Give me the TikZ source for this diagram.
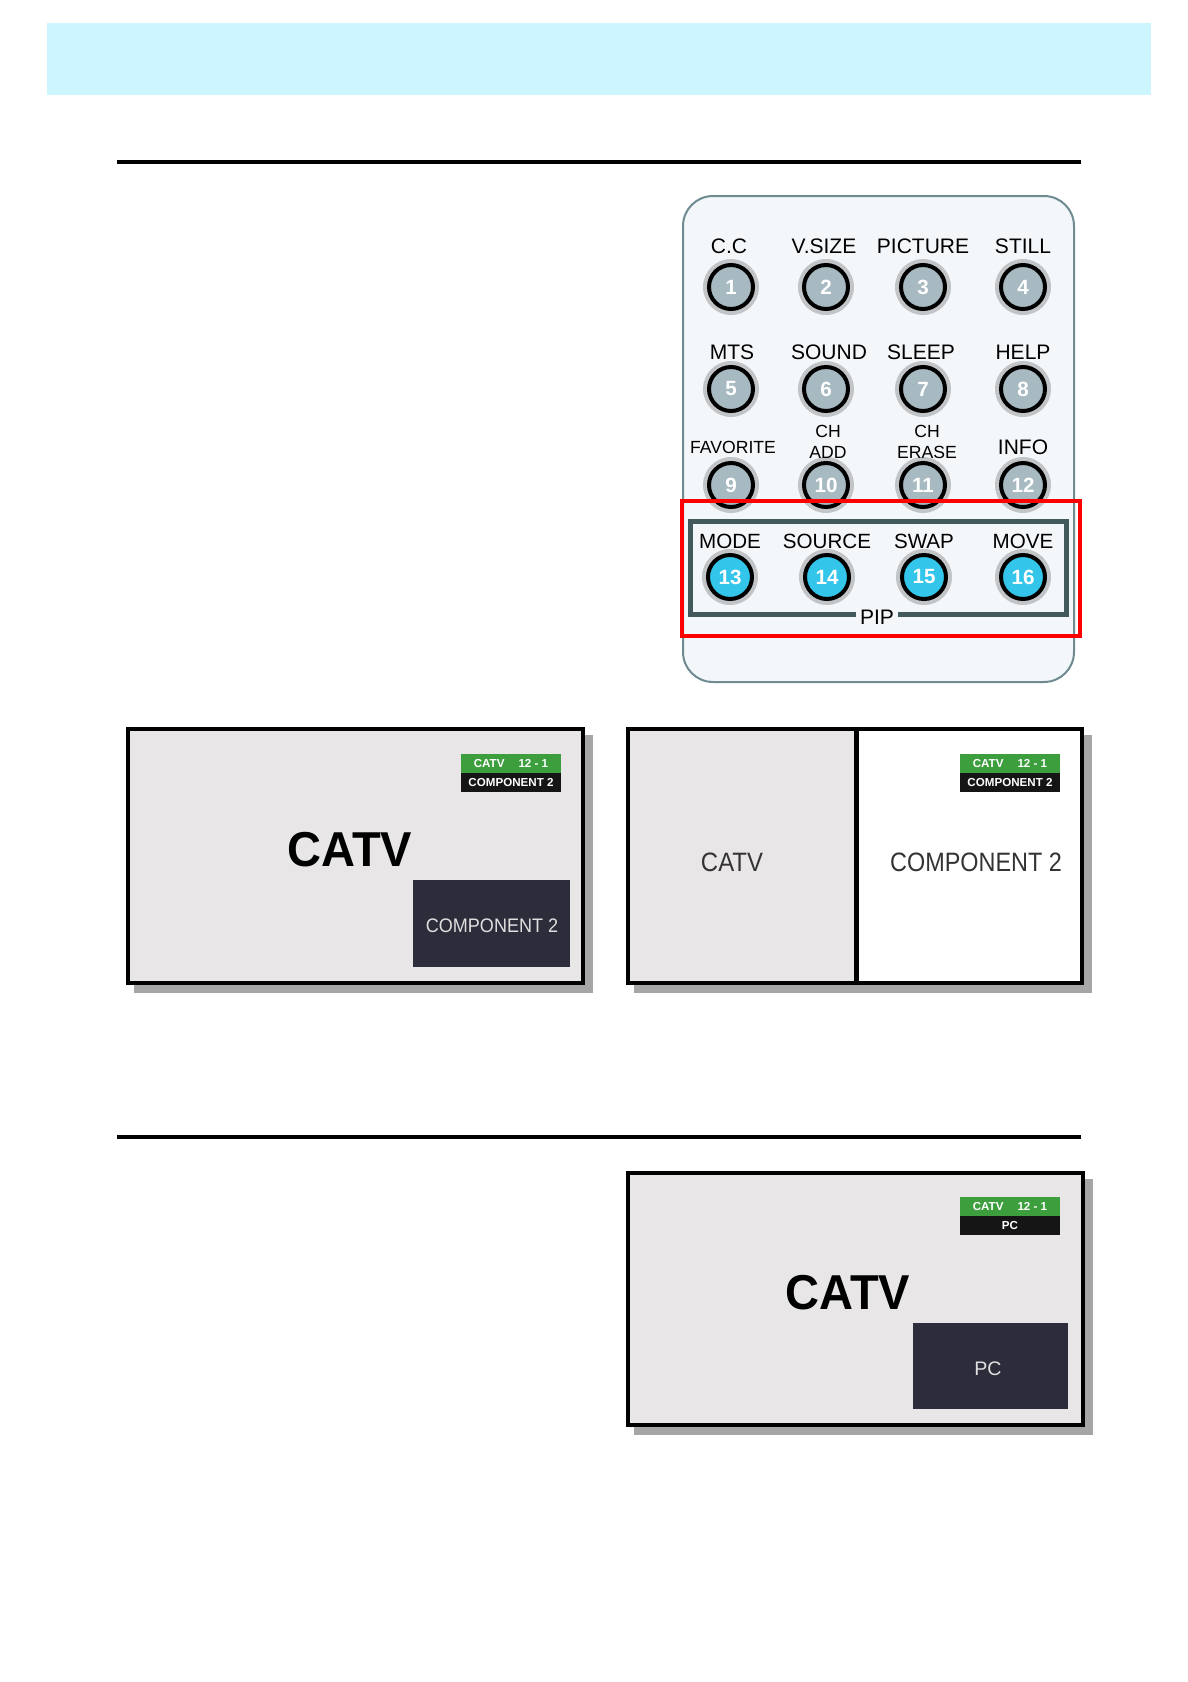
\documentclass[tikz,border=0pt]{standalone}
\usepackage{fontspec}
\setmainfont{Liberation Sans}
\usepackage{graphicx}
\usetikzlibrary{positioning}
\definecolor{cband}{HTML}{CCF5FF}
\definecolor{cremote}{HTML}{F3F7FA}
\definecolor{cedge}{HTML}{6E8B92}
\definecolor{cbtn}{HTML}{A7B9C1}
\definecolor{ccyan}{HTML}{33C5EA}
\definecolor{cpip}{HTML}{425A5C}
\definecolor{cred}{HTML}{FF0000}
\definecolor{cscreen}{HTML}{E8E6E7}
\definecolor{cshadow}{HTML}{A6A6A6}
\definecolor{cpipbox}{HTML}{2C2C3A}
\definecolor{cgreen}{HTML}{3C9E3C}
\definecolor{cdark}{HTML}{151515}
\tikzset{
  btn/.style={circle, draw=black, line width=2pt, fill=#1, minimum size=22pt, inner sep=0pt,
    text=white, font=\bfseries\fontsize{10.3}{10}\selectfont},
  btn/.default=cbtn,
  glow/.style={fill=black, opacity=0.2},
  lbl/.style={inner sep=0pt, align=center, font=\fontsize{10.5}{11}\selectfont},
  lblsmall/.style={lbl, font=\fontsize{8.8}{10.2}\selectfont},
  scrframe/.style={draw=black, line width=2pt, fill=#1},
  scrframe/.default=cscreen,
  scrshadow/.style={fill=cshadow},
  tagtxt/.style={text=white, inner sep=0pt, font=\bfseries\fontsize{5.8}{6}\selectfont},
  hrule/.style={line width=2pt},
}

\begin{document}
\begin{tikzpicture}[x=0.5pt, y=-0.5pt]
  \useasboundingbox (0,0) rectangle (1188,1682);
  % header band and rules
  \fill[cband] (47,23) rectangle (1151,95);
  \draw[hrule] (117,162) -- (1081,162);
  \draw[hrule] (117,1137) -- (1081,1137);

  % remote
  \draw[draw=cedge, fill=cremote, line width=1pt, rounded corners=15pt] (683,196) rectangle (1074,682);
  \foreach \n/\x/\y in {1/731/287, 2/826/287, 3/923/287, 4/1023/287,
                        5/731/389, 6/826/389, 7/923/389, 8/1023/389,
                        9/731/485, 10/826/485, 11/923/485, 12/1023/485} {
    \fill[glow] (\x,\y) circle (14pt);
    \node[btn] (b\n) at (\x,\y) {\n};
  }
  \foreach \t/\x/\y in {C.C/729/246, V.SIZE/824/246, PICTURE/923/246, STILL/1023/246,
                        MTS/732/352, SOUND/829/352, SLEEP/921/352, HELP/1023/352,
                        INFO/1023/447}
    \node[lbl] at (\x,\y) {\t};
  \node[lblsmall] (lfav) at (733,447) {FAVORITE};
  \node[lblsmall] (lchadd) at (828,442) {CH\\ADD};
  \node[lblsmall] (lcherase) at (927,442) {CH\\ERASE};

  % PIP group
  \draw[draw=cpip, line width=2.5pt] (690,521) rectangle (1066,614);
  \node[lbl, fill=cremote, inner sep=2pt] (pip) at (877,617) {PIP};
  \foreach \n/\x/\t in {13/730/MODE, 14/827/SOURCE, 15/924/SWAP, 16/1023/MOVE} {
    \fill[glow] (\x,577) circle (14pt);
    \node[btn=ccyan] (b\n) at (\x,577) {\n};
    \node[lbl, font=\fontsize{10.3}{11}\selectfont] (l\n) at (\x,541) {\t};
  }
  \draw[draw=cred, line width=2pt] (682,501) rectangle (1080,636);

  % screen 1: PIP small window
  \fill[scrshadow] (134,735) rectangle (593,993);
  \draw[scrframe] (128,729) rectangle (583,983);
  \fill[cgreen] (461,754) rectangle (561,773);
  \fill[cdark] (461,773) rectangle (561,792);
  \node[tagtxt] (t1a) at (511,763.5) {CATV\hspace{7pt}12 - 1};
  \node[tagtxt] (t1b) at (511,782.5) {COMPONENT 2};
  \node[inner sep=0pt, font=\bfseries\fontsize{24.5}{25}\selectfont] (main1) at (350,850) {\scalebox{0.96}[1]{CATV}};
  \fill[cpipbox] (413,880) rectangle (570,967);
  \node[inner sep=0pt, text=black!12, font=\fontsize{9.8}{10}\selectfont] (sub1) at (492,926) {\scalebox{0.92}[1]{COMPONENT 2}};

  % screen 2: side by side
  \fill[scrshadow] (634,735) rectangle (1092,993);
  \draw[scrframe=white] (628,729) rectangle (1082,983);
  \fill[cscreen] (629,730) rectangle (856,982);
  \draw[line width=2.5pt] (856,729) -- (856,983);
  \draw[line width=2pt] (628,729) rectangle (1082,983);
  \fill[cgreen] (960,754) rectangle (1060,773);
  \fill[cdark] (960,773) rectangle (1060,792);
  \node[tagtxt] (t2a) at (1010,763.5) {CATV\hspace{7pt}12 - 1};
  \node[tagtxt] (t2b) at (1010,782.5) {COMPONENT 2};
  \node[inner sep=0pt, text=black!80, font=\fontsize{13.3}{14}\selectfont] (main2) at (732,862) {\scalebox{0.9}[1]{CATV}};
  \node[inner sep=0pt, text=black!80, font=\fontsize{13.3}{14}\selectfont] (sub2) at (976,862) {\scalebox{0.88}[1]{COMPONENT 2}};

  % screen 3: PC in small window
  \fill[scrshadow] (634,1179) rectangle (1093,1435);
  \draw[scrframe] (628,1173) rectangle (1083,1425);
  \fill[cgreen] (960,1197) rectangle (1060,1216);
  \fill[cdark] (960,1216) rectangle (1060,1235);
  \node[tagtxt] (t3a) at (1010,1206.5) {CATV\hspace{7pt}12 - 1};
  \node[tagtxt] (t3b) at (1010,1225.5) {PC};
  \node[inner sep=0pt, font=\bfseries\fontsize{24.5}{25}\selectfont] (main3) at (848,1293) {\scalebox{0.96}[1]{CATV}};
  \fill[cpipbox] (913,1323) rectangle (1068,1409);
  \node[inner sep=0pt, text=black!12, font=\fontsize{9.8}{10}\selectfont] (sub3) at (988,1369) {PC};
\end{tikzpicture}
\end{document}
